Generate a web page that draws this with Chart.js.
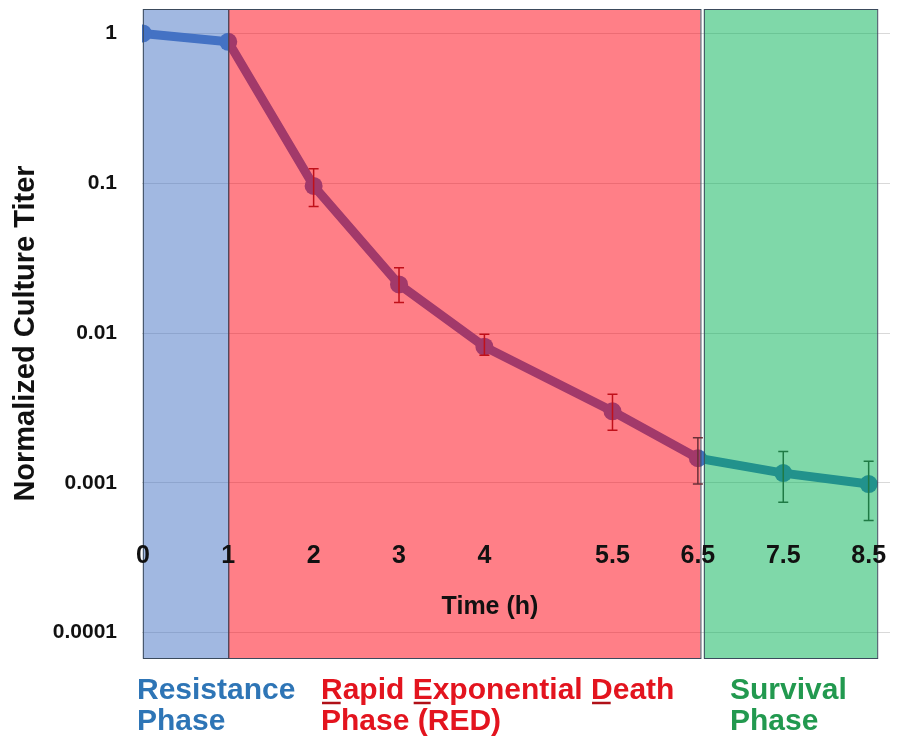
<!DOCTYPE html>
<html>
<head>
<meta charset="utf-8">
<script src="https://cdn.jsdelivr.net/npm/chart.js@4/dist/chart.umd.min.js"></script>
<style>
  html, body { margin: 0; padding: 0; background: #fff; }
  #wrap { width: 901px; height: 752px; position: relative; }
</style>
</head>
<body>
<div id="wrap"><canvas id="titerChart" width="901" height="752"></canvas></div>
<script>
// time points (h) and normalized titer
const timeHours = [0, 1, 2, 3, 4, 5.5, 6.5, 7.5, 8.5];
const titer = [1, 0.88, 0.096, 0.0211, 0.0081, 0.0030, 0.00146, 0.00116, 0.00098];
// error bar ends (null = no bar)
const errHigh = [null, null, 0.125, 0.0273, 0.0098, 0.0039, 0.0020, 0.00162, 0.00139];
const errLow = [null, null, 0.070, 0.0160, 0.0071, 0.00224, 0.00098, 0.00074, 0.00056];

const xTickValues = [0, 1, 2, 3, 4, 5.5, 6.5, 7.5, 8.5];
const yTickValues = [0.0001, 0.001, 0.01, 0.1, 1];

// phase spans along the time axis
const phaseNames = ["Resistance", "RED", "Survival"];
const phaseStart = [0, 1, 6.57];
const phaseEnd = [1, 6.53, 8.6];

const FONT = "'Liberation Sans Narrow', 'Liberation Sans', Arial, sans-serif";

const phasePlugin = {
  id: "phases",
  afterDatasetsDraw(chart) {
    const { ctx, chartArea } = chart;
    const xs = chart.scales.x;
    const ys = chart.scales.y;
    const fills = ["rgba(68,114,196,0.5)", "rgba(255,0,16,0.5)", "rgba(0,178,84,0.5)"];

    ctx.save();
    // shaded phase boxes over the line
    phaseStart.forEach((s, i) => {
      const x0 = xs.getPixelForValue(s);
      const x1 = xs.getPixelForValue(phaseEnd[i]);
      ctx.fillStyle = fills[i];
      ctx.fillRect(x0, chartArea.top, x1 - x0, chartArea.bottom - chartArea.top);
      ctx.strokeStyle = "#3b4a5c";
      ctx.lineWidth = 1;
      ctx.strokeRect(x0 + 0.5, chartArea.top + 0.5, x1 - x0, chartArea.bottom - chartArea.top);
    });

    // error bars
    timeHours.forEach((t, i) => {
      if (errHigh[i] == null) return;
      const x = xs.getPixelForValue(t);
      const yh = ys.getPixelForValue(errHigh[i]);
      const yl = ys.getPixelForValue(errLow[i]);
      if (t < 6.5) ctx.strokeStyle = "#c0101a";
      else if (t > 6.5) ctx.strokeStyle = "#1f7a45";
      else ctx.strokeStyle = "#6a3038";
      ctx.lineWidth = 1.5;
      ctx.beginPath();
      ctx.moveTo(x, yh); ctx.lineTo(x, yl);
      ctx.moveTo(x - 5, yh); ctx.lineTo(x + 5, yh);
      ctx.moveTo(x - 5, yl); ctx.lineTo(x + 5, yl);
      ctx.stroke();
    });
    ctx.restore();
  },
  afterDraw(chart) {
    const { ctx } = chart;
    ctx.save();
    // axis title for time
    ctx.fillStyle = "#111";
    ctx.font = "bold 25px " + FONT;
    ctx.textAlign = "center";
    ctx.textBaseline = "middle";
    ctx.fillText("Time (h)", 490, 607);

    // phase captions under the plot
    ctx.textAlign = "left";
    ctx.textBaseline = "alphabetic";
    ctx.font = "bold 30px " + FONT;
    ctx.fillStyle = "#2e75b6";
    ctx.fillText("Resistance", 137, 699);
    ctx.fillText("Phase", 137, 730);

    ctx.fillStyle = "#e3141e";
    const line1 = "Rapid Exponential Death";
    ctx.fillText(line1, 321, 699);
    ctx.fillText("Phase (RED)", 321, 730);
    ctx.strokeStyle = "#b01018";
    ctx.lineWidth = 2.5;
    [0, 6, 18].forEach((k) => {
      const a = 321 + ctx.measureText(line1.slice(0, k)).width;
      const w = ctx.measureText(line1[k]).width;
      ctx.beginPath();
      ctx.moveTo(a + 1, 703);
      ctx.lineTo(a + w - 2, 703);
      ctx.stroke();
    });

    ctx.fillStyle = "#22994f";
    ctx.fillText("Survival", 730, 699);
    ctx.fillText("Phase", 730, 730);
    ctx.restore();
  },
};

new Chart(document.getElementById("titerChart"), {
  type: "line",
  data: {
    datasets: [
      {
        data: timeHours.map((t, i) => ({ x: t, y: titer[i] })),
        borderColor: "#4472c4",
        backgroundColor: "#4472c4",
        borderWidth: 9,
        pointRadius: 9,
        pointBorderWidth: 0,
        pointBackgroundColor: "#4472c4",
        tension: 0,
      },
    ],
  },
  options: {
    responsive: false,
    animation: false,
    layout: { padding: { top: 8, right: 11, bottom: 94, left: 0 } },
    plugins: { legend: { display: false }, tooltip: { enabled: false } },
    scales: {
      x: {
        type: "linear",
        min: -0.01,
        max: 8.75,
        position: { y: 0.00042 },
        grid: { display: false, drawTicks: false },
        border: { display: false },
        afterFit: (scale) => {
          scale.height = 0;
        },
        afterBuildTicks: (scale) => {
          scale.ticks = xTickValues.map((v) => ({ value: v }));
        },
        ticks: {
          z: 1,
          autoSkip: false,
          maxRotation: 0,
          padding: 2,
          color: "#111",
          font: { family: FONT, size: 25, weight: "bold" },
          callback: (v) => String(v),
        },
      },
      y: {
        type: "logarithmic",
        min: 0.0000676,
        max: 1.457,
        afterFit: (scale) => {
          scale.width = 142;
          scale.paddingTop = 0;
          scale.paddingBottom = 0;
        },
        afterBuildTicks: (scale) => {
          scale.ticks = yTickValues.map((v) => ({ value: v }));
        },
        grid: { color: "#d9d9d9", drawTicks: false },
        border: { display: false },
        ticks: {
          padding: 25,
          color: "#111",
          font: { family: FONT, size: 21, weight: "bold" },
          callback: (v) => String(v),
        },
        title: {
          display: true,
          text: "Normalized Culture Titer",
          color: "#111",
          font: { family: FONT, size: 29, weight: "bold" },
          padding: { top: 9, bottom: 0 },
        },
      },
    },
  },
  plugins: [phasePlugin],
});
</script>
</body>
</html>
